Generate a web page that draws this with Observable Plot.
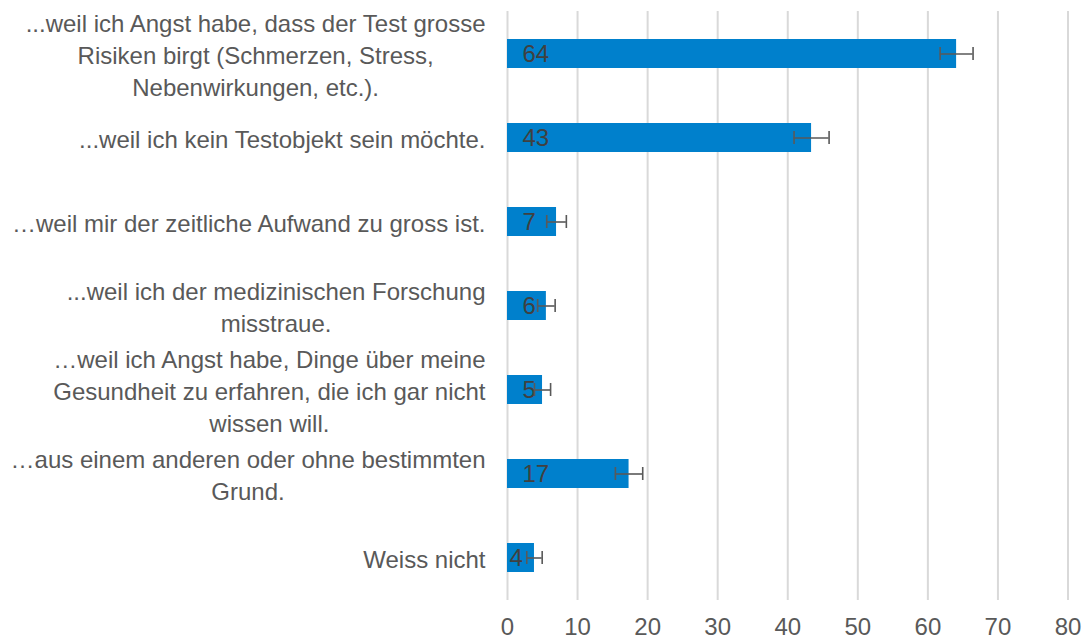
<!DOCTYPE html>
<html>
<head>
<meta charset="utf-8">
<script src="https://cdn.jsdelivr.net/npm/d3@7"></script>
<script src="https://cdn.jsdelivr.net/npm/@observablehq/plot@0.6"></script>
<style>
  html, body { margin: 0; padding: 0; background: #fff; }
  #chart { width: 1086px; height: 639px; }
</style>
</head>
<body>
<div id="chart"></div>
<script>
const categories = [
  "...weil ich Angst habe, dass der Test grosse\nRisiken birgt (Schmerzen, Stress,\nNebenwirkungen, etc.).",
  "...weil ich kein Testobjekt sein möchte.",
  "…weil mir der zeitliche Aufwand zu gross ist.",
  "...weil ich der medizinischen Forschung\nmisstraue.",
  "…weil ich Angst habe, Dinge über meine\nGesundheit zu erfahren, die ich gar nicht\nwissen will.",
  "…aus einem anderen oder ohne bestimmten\nGrund.",
  "Weiss nicht"
];
const values = [64.1, 43.4, 7.0, 5.55, 5.0, 17.35, 3.85];
const errors = [2.35, 2.5, 1.4, 1.25, 1.15, 1.95, 1.1];
const xTicks = [0, 10, 20, 30, 40, 50, 60, 70, 80];

const data = categories.map((c, i) => ({
  cat: c,
  value: values[i],
  lo: values[i] - errors[i],
  hi: values[i] + errors[i],
  label: String(Math.round(values[i]))
}));

const W = 1086, H = 639;
const marginLeft = 507, marginRight = 18.5, marginTop = 11, marginBottom = 39;
const fontSize = 24;
const pxPerUnit = (W - marginLeft - marginRight) / 80;
const labelPad = 15;
// A label sits inside the bar base if it fits; otherwise it hugs the base.
const textW = d => d.label.length * 0.556 * fontSize;
const fits = d => d.value * pxPerUnit >= labelPad + textW(d) + 2;

const chart = Plot.plot({
  width: W,
  height: H,
  marginLeft, marginRight, marginTop, marginBottom,
  style: { fontFamily: "'Liberation Sans', Arial, Helvetica, sans-serif", fontSize: fontSize + "px", color: "#595959", background: "#fff" },
  x: { domain: [0, 80], ticks: xTicks },
  y: { domain: categories, paddingInner: 0.65, paddingOuter: 0.325, align: 0.5 },
  marks: [
    Plot.gridX(xTicks, { stroke: "#d9d9d9", strokeOpacity: 1, strokeWidth: 2 }),
    Plot.barX(data, { x: "value", y: "cat", fill: "#0080cc" }),
    Plot.text(data.filter(fits), { x: 0, y: "cat", text: "label", textAnchor: "start", dx: labelPad, fill: "#404040", fontSize: fontSize }),
    Plot.text(data.filter(d => !fits(d)), { x: 0, y: "cat", text: "label", textAnchor: "start", dx: 2, fill: "#404040", fontSize: fontSize }),
    Plot.ruleY(data, { x1: "lo", x2: "hi", y: "cat", stroke: "#595959", strokeWidth: 1.6 }),
    Plot.tickX(data, { x: "lo", y: "cat", stroke: "#595959", strokeWidth: 1.6, insetTop: 8, insetBottom: 8 }),
    Plot.tickX(data, { x: "hi", y: "cat", stroke: "#595959", strokeWidth: 1.6, insetTop: 8, insetBottom: 8 }),
    Plot.axisX({ ticks: xTicks, tickSize: 0, tickPadding: 17, fontSize: fontSize, color: "#595959", label: null }),
    Plot.axisY({ tickSize: 0, tickPadding: 22, fontSize: fontSize, color: "#595959", label: null, lineHeight: 1.32, textOverflow: null, lineWidth: Infinity })
  ]
});

document.getElementById("chart").appendChild(chart);

// Center the lines of each wrapped category label within its right-aligned block.
chart.querySelectorAll('g[aria-label="y-axis tick label"] text').forEach(t => {
  const spans = t.querySelectorAll("tspan");
  if (spans.length < 2) return;
  let maxW = 0;
  spans.forEach(s => { maxW = Math.max(maxW, s.getComputedTextLength()); });
  t.setAttribute("text-anchor", "middle");
  spans.forEach(s => s.setAttribute("x", -maxW / 2));
});
</script>
</body>
</html>
